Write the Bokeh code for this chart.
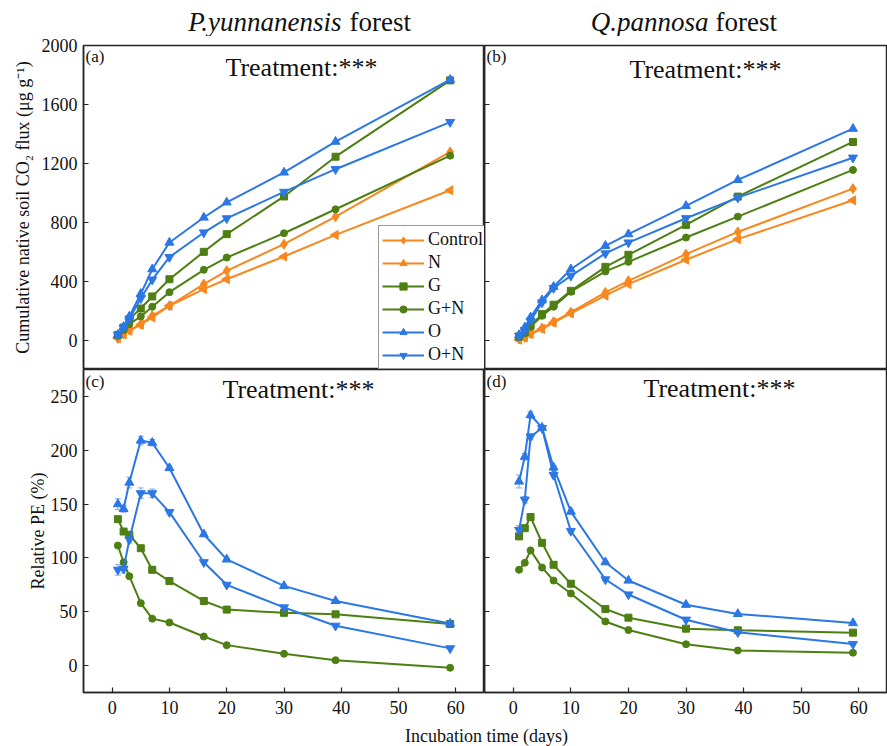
import numpy as np
from bokeh.plotting import figure
from bokeh.models import (Label, Legend, LegendItem, FixedTicker, Whisker,
                          ColumnDataSource, Range1d, TeeHead,
                          CustomJSTickFormatter)
from bokeh.layouts import column, row
from bokeh.embed import file_html
from bokeh.resources import INLINE

# ---------------- data ----------------
days = [1, 2, 3, 5, 7, 10, 16, 20, 30, 39, 59]

# (a) P. yunnanensis forest - cumulative native soil CO2 flux
a_control = [11, 41, 68, 108, 165, 233, 380, 470, 651, 838, 1277]
a_n = [12, 38, 63, 104, 153, 233, 346, 413, 567, 714, 1017]
a_g = [35, 85, 142, 214, 296, 413, 599, 719, 975, 1245, 1763]
a_gn = [35, 68, 108, 160, 226, 325, 477, 560, 725, 888, 1252]
a_o = [36, 90, 160, 314, 481, 662, 832, 935, 1138, 1347, 1768]
a_on = [35, 85, 142, 283, 410, 563, 730, 826, 1006, 1160, 1480]

# (b) Q. pannosa forest - cumulative native soil CO2 flux
b_control = [7, 18, 45, 81, 124, 188, 323, 402, 583, 734, 1028]
b_n = [2, 18, 41, 75, 118, 181, 301, 380, 545, 685, 949]
b_g = [23, 52, 97, 176, 240, 334, 497, 579, 782, 974, 1345]
b_gn = [23, 47, 90, 165, 226, 328, 466, 531, 696, 838, 1155]
b_o = [34, 86, 154, 271, 362, 481, 640, 719, 911, 1087, 1435]
b_on = [29, 68, 131, 255, 353, 436, 588, 662, 827, 967, 1238]

# (c) P. yunnanensis forest - relative PE (%)
c_g = [136, 124.5, 121.5, 109, 89, 78.5, 60, 52, 49, 47.6, 38.6]
c_gn = [111.5, 96, 83, 58, 43.6, 40, 27, 19, 11, 5, -2]
c_o = [150, 145.5, 170, 209, 207, 183.5, 122, 98.6, 74, 60, 39]
c_on = [89, 90, 117, 160, 160, 142.5, 96, 75, 54, 37, 16]
c_o_err = [5, 3, 5, 4, 3, 2, 2, 1, 1, 1, 1]
c_on_err = [5, 4, 3, 5, 4, 2, 1, 1, 1, 1, 1]

# (d) Q. pannosa forest - relative PE (%)
d_g = [120, 127.6, 138, 114, 93.6, 76, 52.5, 44.5, 34.3, 32.8, 30.6]
d_gn = [89, 95.5, 107, 91, 79, 67, 41, 33, 19.8, 14, 12]
d_o = [171, 194, 232.7, 221, 184, 143, 96, 79, 56.5, 48, 39.5]
d_on = [126, 154, 212.6, 220.6, 177, 125, 80, 66, 42.6, 31, 20]
d_o_err = [6, 3, 3, 2, 2, 2, 1, 1, 1, 1, 1]
d_on_err = [4, 3, 3, 2, 2, 2, 1, 1, 1, 1, 1]

top_ticks = [0, 400, 800, 1200, 1600, 2000]
bottom_ticks = [0, 50, 100, 150, 200, 250]
x_ticks = [0, 10, 20, 30, 40, 50, 60]

# ---------------- style ----------------
ORANGE = "#F7871E"
GREEN = "#4D7F12"
BLUE = "#2B77E5"
ERRC = "#7FA8F0"
FONT = "Liberation Serif"
FRAME = "#262626"
TXT = "#111111"


def make_fig(width, height, yr, yticks, left_border, top_border, bottom_border,
             show_ylabels, show_x, label_standoff=6):
    p = figure(width=width, height=height, x_range=Range1d(-5, 65),
               y_range=Range1d(*yr), output_backend="svg", toolbar_location=None,
               min_border_left=left_border, min_border_right=0,
               min_border_top=top_border, min_border_bottom=bottom_border)
    p.grid.visible = False
    p.outline_line_color = FRAME
    p.outline_line_width = 1.5
    p.background_fill_color = "white"
    p.border_fill_color = "white"
    for ax in p.yaxis:
        ax.ticker = FixedTicker(ticks=yticks)
        ax.major_tick_in = 5
        ax.major_tick_out = 0
        ax.minor_tick_in = 0
        ax.minor_tick_out = 0
        ax.axis_line_color = FRAME
        ax.axis_line_width = 1.5
        ax.major_tick_line_color = FRAME
        ax.major_tick_line_width = 1.2
        ax.major_label_text_font = FONT
        ax.major_label_text_font_size = "18px"
        ax.major_label_text_color = TXT
        if show_ylabels:
            ax.major_label_standoff = 6
            ax.axis_label_text_font = FONT
            ax.axis_label_text_font_size = "18px"
            ax.axis_label_text_font_style = "normal"
            ax.axis_label_text_color = TXT
            ax.axis_label_standoff = label_standoff
        else:
            ax.formatter = CustomJSTickFormatter(code="return ''")
            ax.major_label_standoff = 0
    for ax in p.xaxis:
        if show_x:
            ax.ticker = FixedTicker(ticks=x_ticks)
            ax.major_tick_in = 5
            ax.major_tick_out = 0
            ax.minor_tick_in = 0
            ax.minor_tick_out = 0
            ax.axis_line_color = FRAME
            ax.axis_line_width = 1.5
            ax.major_tick_line_color = FRAME
            ax.major_tick_line_width = 1.2
            ax.major_label_text_font = FONT
            ax.major_label_text_font_size = "18px"
            ax.major_label_text_color = TXT
            ax.major_label_standoff = 8
        else:
            ax.visible = False
    return p


def series(p, y, color, marker, size=8, angle=0.0, err=None):
    if err is not None:
        lo = [v - e for v, e in zip(y, err)]
        hi = [v + e for v, e in zip(y, err)]
        esrc = ColumnDataSource(dict(x=days, lower=lo, upper=hi))
        w = Whisker(source=esrc, base="x", lower="lower", upper="upper",
                    line_color=ERRC, line_width=1,
                    upper_head=TeeHead(size=6, line_color=ERRC, line_width=1),
                    lower_head=TeeHead(size=6, line_color=ERRC, line_width=1))
        p.add_layout(w)
    src = ColumnDataSource(dict(x=days, y=y, ang=[angle] * len(days)))
    l = p.line("x", "y", source=src, line_color=color, line_width=2)
    s = p.scatter("x", "y", source=src, marker=marker, size=size, angle="ang",
                  angle_units="rad", fill_color=color, line_color=color)
    return [l, s]


def text_label(p, x, y, text, size, style="normal", align="left"):
    # y is the wanted baseline height above the frame bottom; a small
    # font-dependent correction compensates the renderer's baseline offset
    dy = round(0.32 * size)
    p.add_layout(Label(x=x, y=y + dy, x_units="screen", y_units="screen",
                       text=text, text_font=FONT, text_font_size=f"{size}px",
                       text_font_style=style, text_color=TXT, text_align=align,
                       text_baseline="alphabetic"))


def blank_fig(width, height):
    p = figure(width=width, height=height, x_range=Range1d(0, 1),
               y_range=Range1d(0, 1), output_backend="svg",
               toolbar_location=None, min_border_left=0, min_border_right=0,
               min_border_top=0, min_border_bottom=0)
    p.axis.visible = False
    p.grid.visible = False
    p.outline_line_color = None
    return p


# ---------------- layout sizes ----------------
LW, RW = 484, 403
HH, TH, BH, FH = 36, 333, 351, 26

# header with panel titles
ph = blank_fig(LW + RW, HH)
text_label(ph, 341, 6, "P.yunnanensis", 27, style="italic", align="right")
text_label(ph, 349, 6, "forest", 27)
text_label(ph, 708, 6, "Q.pannosa", 27, style="italic", align="right")
text_label(ph, 715, 6, "forest", 27)

# (a)
pa = make_fig(LW, TH, (-200, 2000), top_ticks, 83, 9, 0, True, False)
pa.yaxis.axis_label = "Cumulative native soil CO\u2082 flux (\u03bcg g\u207b\u00b9)"
ra = {}
ra["Control"] = series(pa, a_control, ORANGE, "diamond", size=10)
ra["N"] = series(pa, a_n, ORANGE, "triangle", size=9, angle=np.pi / 2)
ra["G"] = series(pa, a_g, GREEN, "square", size=7)
ra["G+N"] = series(pa, a_gn, GREEN, "circle", size=7)
ra["O"] = series(pa, a_o, BLUE, "triangle", size=9)
ra["O+N"] = series(pa, a_on, BLUE, "inverted_triangle", size=9)

legend = Legend(items=[LegendItem(label=k, renderers=v) for k, v in ra.items()],
                location=(295, 0), margin=0, padding=3, spacing=2,
                glyph_width=42, glyph_height=18, label_height=18,
                label_standoff=4, label_text_font=FONT,
                label_text_font_size="18px", label_text_color=TXT,
                border_line_color="#333333", border_line_width=1,
                background_fill_color="white", background_fill_alpha=1)
pa.add_layout(legend)
text_label(pa, 2, 308, "(a)", 17)
text_label(pa, 218, 294, "Treatment:***", 26, align="center")

# (b)
pb = make_fig(RW, TH, (-200, 2000), top_ticks, 0, 9, 0, False, False)
series(pb, b_control, ORANGE, "diamond", size=10)
series(pb, b_n, ORANGE, "triangle", size=9, angle=np.pi / 2)
series(pb, b_g, GREEN, "square", size=7)
series(pb, b_gn, GREEN, "circle", size=7)
series(pb, b_o, BLUE, "triangle", size=9)
series(pb, b_on, BLUE, "inverted_triangle", size=9)
text_label(pb, 2, 308, "(b)", 17)
text_label(pb, 221, 292, "Treatment:***", 26, align="center")

# (c)
pc = make_fig(LW, BH, (-25, 275), bottom_ticks, 83, 0, 28, True, True,
              label_standoff=0)
pc.yaxis.axis_label = "Relative PE (%)"
series(pc, c_g, GREEN, "square", size=7)
series(pc, c_gn, GREEN, "circle", size=7)
series(pc, c_o, BLUE, "triangle", size=9, err=c_o_err)
series(pc, c_on, BLUE, "inverted_triangle", size=9, err=c_on_err)
text_label(pc, 2, 306, "(c)", 17)
text_label(pc, 215, 295, "Treatment:***", 26, align="center")

# (d)
pd_ = make_fig(RW, BH, (-25, 275), bottom_ticks, 0, 0, 28, False, True)
series(pd_, d_g, GREEN, "square", size=7)
series(pd_, d_gn, GREEN, "circle", size=7)
series(pd_, d_o, BLUE, "triangle", size=9, err=d_o_err)
series(pd_, d_on, BLUE, "inverted_triangle", size=9, err=d_on_err)
text_label(pd_, 2, 306, "(d)", 17)
text_label(pd_, 235, 296, "Treatment:***", 26, align="center")

# footer with shared x-axis title
pf = blank_fig(LW + RW, FH)
text_label(pf, 486, 5, "Incubation time (days)", 18, align="center")

layout = column(ph, row(pa, pb), row(pc, pd_), pf)

with open("out.html", "w") as f:
    f.write(file_html(layout, INLINE))
